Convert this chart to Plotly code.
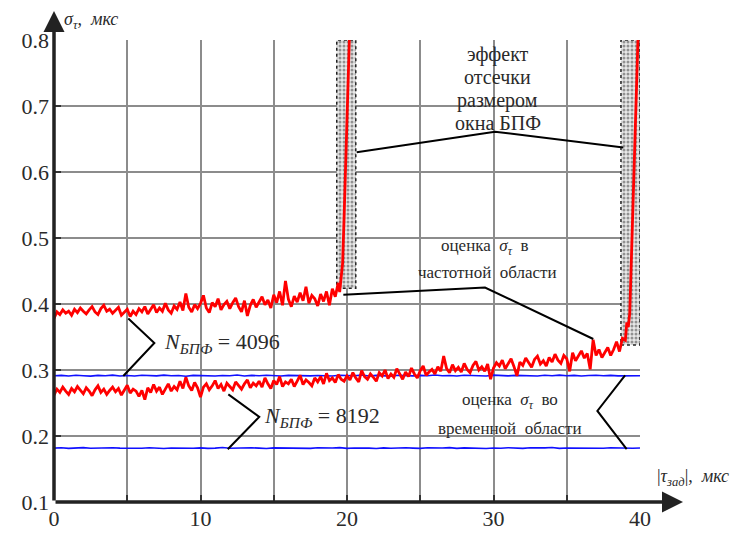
import numpy as np
import plotly.graph_objects as go

# ---------------- data ----------------
# sigma_tau estimate in the frequency domain, N_FFT = 4096 (step 0.2 us)
tau_4096_start, tau_step = 0.0, 0.2
sigma_4096 = [
    0.378, 0.388, 0.384, 0.391, 0.386, 0.389, 0.383, 0.392, 0.387, 0.394, 0.389,
    0.385, 0.391, 0.396, 0.388, 0.384, 0.393, 0.398, 0.389, 0.392, 0.386,
    0.390, 0.395, 0.383, 0.387, 0.392, 0.381, 0.389, 0.384, 0.393, 0.388,
    0.396, 0.385, 0.392, 0.399, 0.387, 0.394, 0.389, 0.401, 0.391, 0.386,
    0.397, 0.392, 0.403, 0.390, 0.416, 0.395, 0.388, 0.399, 0.393, 0.401,
    0.413, 0.394, 0.387, 0.402, 0.396, 0.408, 0.391, 0.399, 0.404, 0.393,
    0.402, 0.409, 0.396, 0.388, 0.405, 0.382, 0.398, 0.407, 0.395, 0.403,
    0.411, 0.399, 0.406, 0.394, 0.414, 0.402, 0.419, 0.398, 0.435, 0.407,
    0.396, 0.412, 0.403, 0.417, 0.405, 0.426, 0.401, 0.413, 0.408, 0.397,
    0.415, 0.404, 0.419, 0.398, 0.423, 0.411, 0.432,
]
# cut-off region (FFT window size effect)
tau_4096_tail = [19.5, 19.6, 19.7, 19.8, 19.9, 20.0, 20.1, 20.2]
sigma_4096_tail = [0.418, 0.440, 0.462, 0.530, 0.610, 0.690, 0.760, 0.830]

# sigma_tau estimate in the frequency domain, N_FFT = 8192 (step 0.2 us)
sigma_8192 = [
    0.262, 0.271, 0.266, 0.274, 0.268, 0.263, 0.272, 0.267, 0.275, 0.269,
    0.264, 0.273, 0.268, 0.261, 0.270, 0.276, 0.266, 0.271, 0.263, 0.269,
    0.274, 0.267, 0.272, 0.262, 0.270, 0.277, 0.265, 0.271, 0.268, 0.260,
    0.269, 0.255, 0.273, 0.266, 0.278, 0.268, 0.274, 0.263, 0.271, 0.279,
    0.268, 0.275, 0.270, 0.283, 0.272, 0.289, 0.276, 0.269, 0.281, 0.273,
    0.259, 0.274, 0.279, 0.270, 0.276, 0.284, 0.272, 0.278, 0.268, 0.280,
    0.275, 0.270, 0.282, 0.276, 0.271, 0.279, 0.285, 0.273, 0.280, 0.276,
    0.283, 0.274, 0.288, 0.279, 0.272, 0.284, 0.278, 0.290, 0.275, 0.282,
    0.279, 0.286, 0.275, 0.283, 0.292, 0.278, 0.285, 0.281, 0.276, 0.288,
    0.282, 0.290, 0.279, 0.295, 0.284, 0.288, 0.281, 0.293, 0.286, 0.283,
    0.291, 0.285, 0.296, 0.288, 0.282, 0.299, 0.290, 0.286, 0.294, 0.289,
    0.283, 0.296, 0.291, 0.300, 0.287, 0.294, 0.289, 0.302, 0.293, 0.286,
    0.297, 0.290, 0.303, 0.294, 0.288, 0.299, 0.306, 0.292, 0.297, 0.301,
    0.294, 0.305, 0.298, 0.321, 0.302, 0.296, 0.308, 0.299, 0.304, 0.297,
    0.310, 0.301, 0.296, 0.307, 0.313, 0.300, 0.305, 0.298, 0.309, 0.286,
    0.303, 0.311, 0.306, 0.315, 0.302, 0.309, 0.317, 0.305, 0.291, 0.312,
    0.307, 0.318, 0.310, 0.304, 0.316, 0.321, 0.309, 0.314, 0.306, 0.319,
    0.312, 0.324, 0.315, 0.310, 0.322, 0.317, 0.298, 0.326, 0.314, 0.321,
    0.329, 0.318, 0.325, 0.301, 0.346, 0.322, 0.331, 0.319, 0.327, 0.334,
    0.322, 0.331, 0.343, 0.328, 0.348,
]
tau_8192_tail = [39.0, 39.1, 39.2, 39.3, 39.4, 39.5, 39.6, 39.7, 39.8, 39.9]
sigma_8192_tail = [0.345, 0.372, 0.365, 0.386, 0.460, 0.530, 0.610, 0.680, 0.755, 0.830]

# sigma_tau estimate in the time domain (step 0.5 us)
tau_time_step = 0.5
sigma_time_4096 = [
    0.2912, 0.2918, 0.2909, 0.2921, 0.2914, 0.2907, 0.2919, 0.2913, 0.2922, 0.2910,
    0.2916, 0.2908, 0.2920, 0.2914, 0.2911, 0.2923, 0.2912, 0.2917, 0.2906, 0.2919,
    0.2915, 0.2921, 0.2910, 0.2916, 0.2913, 0.2924, 0.2909, 0.2918, 0.2912, 0.2920,
    0.2914, 0.2908, 0.2919, 0.2915, 0.2922, 0.2911, 0.2917, 0.2913, 0.2909, 0.2921,
    0.2916, 0.2912, 0.2923, 0.2910, 0.2918, 0.2914, 0.2907, 0.2920, 0.2915, 0.2911,
    0.2919, 0.2913, 0.2924, 0.2912, 0.2916, 0.2909, 0.2921, 0.2914, 0.2918, 0.2910,
    0.2922, 0.2915, 0.2911, 0.2919, 0.2913, 0.2917, 0.2908, 0.2920, 0.2914, 0.2923,
    0.2912, 0.2918, 0.2910, 0.2916, 0.2921, 0.2913, 0.2919, 0.2911, 0.2915, 0.2917,
    0.2914,
]
sigma_time_8192 = [
    0.1816, 0.1821, 0.1812, 0.1819, 0.1824, 0.1814, 0.1818, 0.1811, 0.1822, 0.1817,
    0.1813, 0.1820, 0.1815, 0.1823, 0.1818, 0.1810, 0.1819, 0.1816, 0.1822, 0.1814,
    0.1820, 0.1812, 0.1817, 0.1825, 0.1815, 0.1819, 0.1813, 0.1821, 0.1816, 0.1811,
    0.1820, 0.1818, 0.1814, 0.1823, 0.1817, 0.1812, 0.1821, 0.1815, 0.1819, 0.1824,
    0.1813, 0.1818, 0.1822, 0.1816, 0.1811, 0.1820, 0.1814, 0.1819, 0.1823, 0.1817,
    0.1812, 0.1821, 0.1815, 0.1818, 0.1824, 0.1813, 0.1820, 0.1816, 0.1822, 0.1811,
    0.1819, 0.1814, 0.1823, 0.1817, 0.1812, 0.1821, 0.1815, 0.1820, 0.1825, 0.1813,
    0.1818, 0.1816, 0.1822, 0.1811, 0.1819, 0.1814, 0.1821, 0.1817, 0.1823, 0.1815,
    0.1818,
]

# hatched cut-off zones: [tau_min, tau_max, sigma_min, sigma_max]
cutoff_zone_4096 = [19.3, 20.6, 0.424, 0.80]
cutoff_zone_8192 = [38.7, 40.0, 0.338, 0.80]

x_ticks = [0, 5, 10, 15, 20, 25, 30, 35, 40]
x_ticktext = ["0", "", "10", "", "20", "", "30", "", "40"]
y_ticks = [0.1, 0.2, 0.3, 0.4, 0.5, 0.6, 0.7, 0.8]
y_ticktext = ["0.1", "0.2", "0.3", "0.4", "0.5", "0.6", "0.7", "0.8"]

# ---------------- figure ----------------
SERIF = "Liberation Serif"
TXT = "#2a2a2a"
RED = "#ff0000"
BLUE = "#1010ff"

tau_4096 = tau_4096_start + tau_step * np.arange(len(sigma_4096))
tau_8192 = tau_step * np.arange(len(sigma_8192))
tau_time = tau_time_step * np.arange(len(sigma_time_4096))

fig = go.Figure()


def zone_trace(z):
    x0, x1, y0, y1 = z
    return go.Scatter(
        x=[x0, x1, x1, x0, x0], y=[y0, y0, y1, y1, y0],
        mode="lines", fill="toself",
        fillcolor="#e6e6e6",
        fillpattern=dict(shape=".", fgcolor="#3a3a3a", bgcolor="#e8e8e8",
                         size=4, solidity=0.45),
        line=dict(color="#222222", width=1.5, dash="dot"),
        hoverinfo="skip", showlegend=False,
    )


fig.add_trace(zone_trace(cutoff_zone_4096))
fig.add_trace(zone_trace(cutoff_zone_8192))

fig.add_trace(go.Scatter(x=tau_time, y=sigma_time_4096, mode="lines",
                         line=dict(color=BLUE, width=1.6), showlegend=False))
fig.add_trace(go.Scatter(x=tau_time, y=sigma_time_8192, mode="lines",
                         line=dict(color=BLUE, width=1.6), showlegend=False))

fig.add_trace(go.Scatter(x=list(tau_4096) + tau_4096_tail,
                         y=sigma_4096 + sigma_4096_tail, mode="lines",
                         line=dict(color=RED, width=2.8), showlegend=False))
fig.add_trace(go.Scatter(x=list(tau_8192) + tau_8192_tail,
                         y=sigma_8192 + sigma_8192_tail, mode="lines",
                         line=dict(color=RED, width=2.8), showlegend=False))

# leader lines of the callouts
leaders = [
    [(20.66, 0.630), (30.10, 0.661), (38.86, 0.637)],
    [(19.75, 0.414), (29.42, 0.425), (36.81, 0.347)],
    [(5.07, 0.378), (6.85, 0.341), (4.73, 0.291)],
    [(11.90, 0.263), (14.01, 0.229), (11.86, 0.180)],
    [(38.98, 0.292), (37.09, 0.238), (39.09, 0.180)],
]
for pts in leaders:
    path = "M " + " L ".join(f"{x},{y}" for x, y in pts)
    fig.add_shape(type="path", path=path, xref="x", yref="y",
                  line=dict(color="black", width=2))

annotations = []


def label(x, y, text, size, xanchor="center", xref="x", yref="y"):
    annotations.append(dict(x=x, y=y, xref=xref, yref=yref, text=text,
                            showarrow=False, xanchor=xanchor, yanchor="middle",
                            font=dict(family=SERIF, size=size, color=TXT)))


# callout texts
for i, line in enumerate(["эффект", "отсечки", "размером", "окна БПФ"]):
    label(30.3, 0.7263 - (i - 1.5) * 0.0348, line, 20)

label(29.4, 0.4864, "оценка  <i>σ</i><sub><i>τ</i></sub>  в", 17)
label(29.6, 0.4470, "частотной  области", 17)
label(31.1, 0.2525, "оценка  <i>σ</i><sub><i>τ</i></sub>  во", 17)
label(31.1, 0.2121, "временной  области", 17)

label(7.4, 0.341, "<i>N</i><sub><i>БПФ</i></sub> = 4096", 22, xanchor="left")
label(14.2, 0.229, "<i>N</i><sub><i>БПФ</i></sub> = 8192", 22, xanchor="left")

# axis titles
label(0.013, 1.043, "<i>σ</i><sub><i>τ</i></sub>,  <i>мкс</i>", 18,
      xanchor="left", xref="paper", yref="paper")
label(1.026, 0.052, "|<i>τ</i><sub><i>зад</i></sub>|,  <i>мкс</i>", 18,
      xanchor="left", xref="paper", yref="paper")

# axis arrows
annotations.append(dict(x=1.0734, y=0, xref="paper", yref="paper",
                        ax=-629, ay=0, text="", showarrow=True,
                        arrowhead=2, arrowsize=1.2, arrowwidth=3.5,
                        arrowcolor="#222222"))
annotations.append(dict(x=0, y=1.0628, xref="paper", yref="paper",
                        ax=0, ay=491, text="", showarrow=True,
                        arrowhead=2, arrowsize=1.2, arrowwidth=3.5,
                        arrowcolor="#222222"))

fig.update_layout(
    width=738, height=533,
    margin=dict(l=54, r=98, t=40, b=31),
    paper_bgcolor="white", plot_bgcolor="white",
    annotations=annotations,
    xaxis=dict(range=[0, 40], tickvals=x_ticks, ticktext=x_ticktext,
               showgrid=True, gridcolor="#8c8c8c", gridwidth=2,
               zeroline=False, showline=False, automargin=False,
               ticks="inside", ticklen=7, tickwidth=2, tickcolor="#333333",
               ticklabelstandoff=1,
               tickfont=dict(family=SERIF, size=22, color=TXT)),
    yaxis=dict(range=[0.1, 0.8], tickvals=y_ticks, ticktext=y_ticktext,
               showgrid=True, gridcolor="#8c8c8c", gridwidth=2,
               zeroline=False, showline=False, automargin=False,
               ticks="inside", ticklen=7, tickwidth=2, tickcolor="#333333",
               ticklabelstandoff=4,
               tickfont=dict(family=SERIF, size=22, color=TXT)),
)

fig.write_html("out.html")
